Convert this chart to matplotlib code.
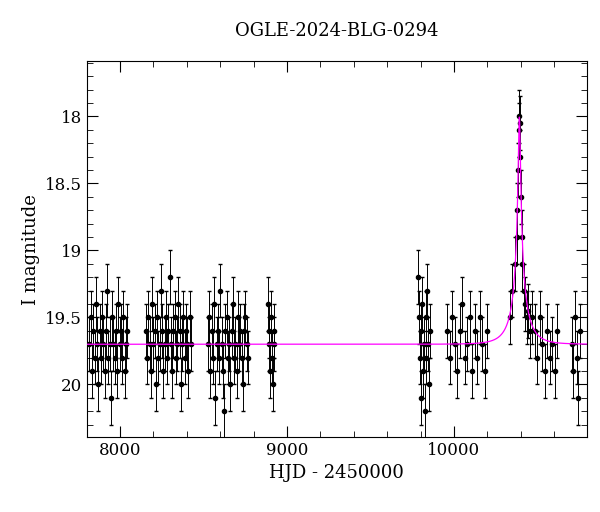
import numpy as np
import matplotlib
matplotlib.use("Agg")
import matplotlib.pyplot as plt

title = "OGLE-2024-BLG-0294"
xlabel = "HJD - 2450000"
ylabel = "I magnitude"

hjd = [7815,7825,7832,7840,7848,7855,7862,7870,7878,7885,7892,7900,7908,7915,7922,7930,7938,7945,7952,7960,7968,7975,7982,7990,7998,8005,8012,8020,8028,8035,8042,
       8155,8163,8170,8178,8185,8192,8200,8208,8215,8222,8230,8238,8245,8252,8260,8268,8275,8282,8290,8298,8305,8312,8320,8328,8335,8342,8350,8358,8365,8372,8380,8388,8395,8402,8410,8418,8425,
       8525,8533,8540,8548,8555,8562,8570,8578,8585,8592,8600,8608,8615,8622,8630,8638,8645,8652,8660,8668,8675,8682,8690,8698,8705,8712,8720,8728,8735,8742,8750,8758,8765,
       8885,8890,8895,8900,8905,8910,8915,8920,8925,
       9785,9790,9795,9800,9805,9810,9815,9820,9825,9830,9835,9840,9845,9850,9855,
       9960,9975,9990,10005,10020,10035,10050,10065,10080,10095,10110,10125,10140,10155,10170,10185,10200,
       10335,10350,10365,10375,10380,10384,10388,10391,10394,10397,10400,10405,10410,10418,10425,10435,10445,10455,10470,10485,10500,10515,10530,10545,10560,10575,10590,10605,10620,
       10705,10715,10725,10735,10745,10755]
mag = [19.7,19.5,19.9,19.6,19.8,19.4,19.7,20.0,19.6,19.8,19.5,19.7,19.9,19.6,19.3,19.8,19.7,20.1,19.5,19.7,19.8,19.6,19.9,19.4,19.7,19.6,19.8,19.5,19.9,19.7,19.6,
       19.6,19.8,19.5,19.7,19.9,19.4,19.7,19.6,20.0,19.5,19.8,19.7,19.3,19.6,19.9,19.7,19.5,19.8,19.6,19.2,19.7,19.9,19.6,19.5,19.8,19.7,19.4,19.6,20.0,19.7,19.5,19.8,19.6,19.7,19.9,19.5,19.7,
       19.7,19.5,19.9,19.6,19.8,19.4,20.1,19.7,19.6,19.8,19.3,19.7,19.9,20.2,19.6,19.5,19.8,19.7,20.0,19.6,19.4,19.8,19.7,19.9,19.5,19.7,19.6,19.8,20.0,19.6,19.5,19.7,19.8,
       19.4,19.7,19.6,19.9,19.5,19.8,20.0,19.7,19.6,
       19.2,19.5,19.8,20.1,19.6,19.4,19.9,19.7,20.2,19.5,19.8,19.3,19.7,20.0,19.6,
       19.6,19.8,19.5,19.7,19.9,19.6,19.4,19.8,19.7,19.5,19.9,19.6,19.8,19.5,19.7,19.9,19.6,
       19.5,19.3,19.1,18.9,18.7,18.4,18.1,18.0,18.05,18.3,18.6,18.9,19.1,19.3,19.4,19.5,19.45,19.6,19.5,19.6,19.8,19.5,19.7,19.9,19.6,19.8,19.7,19.9,19.6,
       19.7,19.9,19.5,19.8,20.1,19.6]
err = [0.2]*len(hjd)

t0, tE, u0, fs, base = 10392.0, 100.0, 0.06, 0.24, 19.70
tm = np.linspace(7800, 10800, 4000)
u = np.sqrt(u0**2 + ((tm - t0)/tE)**2)
A = (u**2 + 2)/(u*np.sqrt(u**2 + 4))
model = base - 2.5*np.log10(fs*A + 1 - fs)

plt.rcParams["font.family"] = "DejaVu Serif"
fig = plt.figure(figsize=(6, 5.12), dpi=100)
ax = fig.add_axes([0.145, 0.147, 0.833, 0.733])
ax.errorbar(hjd, mag, yerr=err, fmt="o", ms=3, color="black", ecolor="black", elinewidth=0.7, capsize=1.5, zorder=2)
ax.plot(tm, model, color="magenta", lw=0.9, zorder=3)
ax.set_xlim(7802, 10796)
ax.set_ylim(20.39, 17.59)
ax.set_xticks([8000, 9000, 10000])
ax.set_yticks([18, 18.5, 19, 19.5, 20])
ax.set_yticklabels(["18", "18.5", "19", "19.5", "20"])
ax.minorticks_on()
ax.tick_params(which="both", direction="in", top=True, right=True, labelsize=12)
ax.tick_params(which="major", length=8)
ax.tick_params(which="minor", length=4)
ax.set_xlabel(xlabel, fontsize=13)
ax.set_ylabel(ylabel, fontsize=13)
ax.set_title(title, fontsize=13, pad=18)
fig.savefig("out.png")
